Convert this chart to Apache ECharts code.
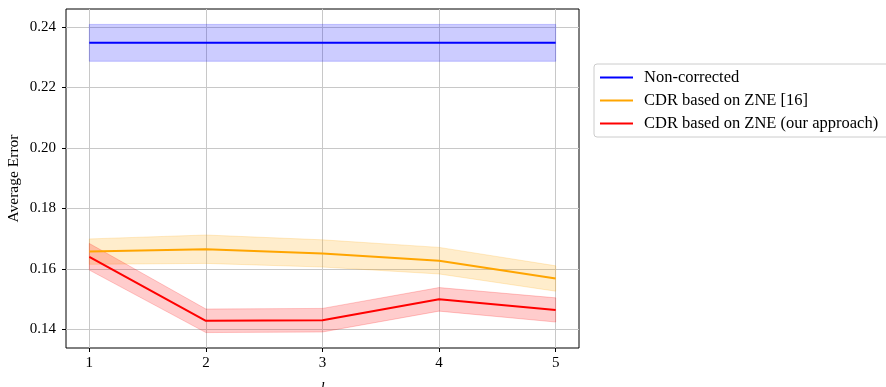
<!DOCTYPE html>
<html>
<head>
<meta charset="utf-8">
<script src="https://cdn.jsdelivr.net/npm/echarts@6/dist/echarts.min.js"></script>
<style>
  html, body { margin: 0; padding: 0; background: #fff; }
  #chart { width: 886px; height: 387px; }
</style>
</head>
<body>
<div id="chart"></div>
<script>
// x positions (l) and tick labels
const lValues = [1, 2, 3, 4, 5];
const xTicks = [1, 2, 3, 4, 5];
const yTicks = [0.14, 0.16, 0.18, 0.20, 0.22, 0.24];

// mean average error and its spread (±std) per method
const nonCorrectedMean = [0.2348, 0.2348, 0.2348, 0.2348, 0.2348];
const nonCorrectedStd  = [0.0061, 0.0061, 0.0061, 0.0061, 0.0061];
const cdrRefMean = [0.1657, 0.1665, 0.1651, 0.1627, 0.1568];
const cdrRefStd  = [0.0042, 0.0047, 0.0045, 0.0044, 0.0042];
const cdrOursMean = [0.1640, 0.1428, 0.1430, 0.1499, 0.1464];
const cdrOursStd  = [0.0044, 0.0039, 0.0039, 0.0039, 0.0040];

const names = ['Non-corrected', 'CDR based on ZNE [16]', 'CDR based on ZNE (our approach)'];
const colors = ['#0000ff', '#ffa500', '#ff0000'];
const bandColors = ['rgba(0,0,255,0.2)', 'rgba(255,165,0,0.2)', 'rgba(255,0,0,0.2)'];
const means = [nonCorrectedMean, cdrRefMean, cdrOursMean];
const stds = [nonCorrectedStd, cdrRefStd, cdrOursStd];

const FONT = '"Liberation Serif", "Times New Roman", serif';

// shaded mean ± std band drawn as one polygon through the axis scales
function bandSeries(i) {
  const m = means[i], s = stds[i];
  const data = lValues.map((x, k) => [x, m[k] - s[k], m[k] + s[k]]);
  return {
    type: 'custom', silent: true, z: 1,
    encode: { x: 0, y: [1, 2] },
    data: data,
    renderItem: function (params, api) {
      if (params.dataIndex !== 0) return null;
      const upper = data.map(d => api.coord([d[0], d[2]]));
      const lower = data.map(d => api.coord([d[0], d[1]])).reverse();
      return {
        type: 'polygon',
        shape: { points: upper.concat(lower) },
        style: { fill: bandColors[i], stroke: bandColors[i], lineWidth: 1 }
      };
    }
  };
}

const series = [0, 1, 2].map(bandSeries);
// mean lines
means.forEach((m, i) => {
  series.push({
    name: names[i], type: 'line', data: lValues.map((x, k) => [x, m[k]]),
    symbol: 'none', lineStyle: { color: colors[i], width: 2 }, itemStyle: { color: colors[i] }, z: 3
  });
});

const chart = echarts.init(document.getElementById('chart'), null, { renderer: 'canvas' });
chart.setOption({
  animation: false,
  backgroundColor: '#fff',
  grid: {
    left: 66, top: 9, width: 513, height: 339,
    outerBoundsMode: 'none', containLabel: false,
    show: true, borderColor: '#000', borderWidth: 1, backgroundColor: 'transparent'
  },
  legend: {
    data: names,
    orient: 'vertical',
    left: 594, top: 64,
    padding: [5, 30, 5, 6],
    itemGap: 6,
    icon: 'rect',
    itemWidth: 33, itemHeight: 2,
    borderColor: '#cccccc', borderWidth: 1, borderRadius: 3,
    backgroundColor: '#fff',
    textStyle: { fontFamily: FONT, fontSize: 16.5, color: '#000', lineHeight: 16, padding: [0, 0, 0, 6] }
  },
  xAxis: {
    type: 'value', min: 0.8, max: 5.2,
    name: 'l', nameLocation: 'middle', nameGap: 33, nameMoveOverlap: false,
    nameTextStyle: { fontFamily: FONT, fontStyle: 'italic', fontSize: 15, color: '#000' },
    axisLine: { show: false },
    axisTick: { show: true, length: 4, lineStyle: { color: '#000' }, customValues: xTicks },
    axisLabel: { fontFamily: FONT, fontSize: 15, color: '#000', margin: 8, customValues: xTicks },
    splitLine: { show: true, lineStyle: { color: '#c8c8c8', width: 1 } }
  },
  yAxis: {
    type: 'value', min: 0.1338, max: 0.2460,
    name: 'Average Error', nameLocation: 'middle', nameGap: 44, nameRotate: 90, nameMoveOverlap: false,
    nameTextStyle: { fontFamily: FONT, fontSize: 15.5, color: '#000' },
    axisLine: { show: false },
    axisTick: { show: true, length: 4, lineStyle: { color: '#000' }, customValues: yTicks },
    axisLabel: {
      fontFamily: FONT, fontSize: 15, color: '#000', margin: 10, customValues: yTicks,
      formatter: v => v.toFixed(2)
    },
    splitLine: { show: true, lineStyle: { color: '#c8c8c8', width: 1 } }
  },
  series: series
});
</script>
</body>
</html>
